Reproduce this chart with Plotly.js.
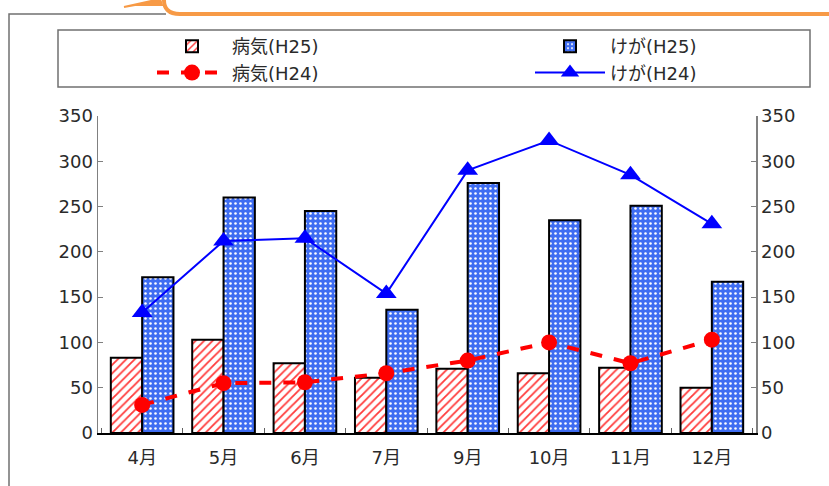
<!DOCTYPE html>
<html>
<head>
<meta charset="utf-8">
<script src="https://cdn.plot.ly/plotly-3.0.1.min.js"></script>
<style>html,body{margin:0;padding:0;background:#fff;}#chart{width:829px;height:486px;}</style>
</head>
<body>
<div id="chart"></div>
<script>
const months = ['4月', '5月', '6月', '7月', '9月', '10月', '11月', '12月'];
const illnessH25 = [83, 103, 77, 61, 71, 66, 72, 50];
const injuryH25 = [172, 260, 245, 136, 276, 235, 251, 167];
const illnessH24 = [31, 55, 56, 66, 80, 100, 77, 103];
const injuryH24 = [133, 212, 215, 154, 290, 323, 285, 231];
const seriesNames = ['病気(H25)', 'けが(H25)', '病気(H24)', 'けが(H24)'];
const yTicks = [0, 50, 100, 150, 200, 250, 300, 350];

const FONT = 'DejaVu Sans, Noto Sans CJK JP, sans-serif';
const W = 829, H = 486;
const L = 98, R = 73, T = 116, B = 53;
const pw = W - L - R, ph = H - T - B;
const px = x => (x - L) / pw;
const py = y => (H - B - y) / ph;

const traces = [
  {type: 'bar', name: seriesNames[0], x: months, y: illnessH25, legend: 'legend',
   marker: {color: '#ffffff', line: {color: '#000000', width: 2},
            pattern: {shape: '/', fgcolor: '#ff3b3b', bgcolor: '#ffffff', size: 6, solidity: 0.3}}},
  {type: 'bar', name: seriesNames[1], x: months, y: injuryH25, legend: 'legend2',
   marker: {color: '#3f6df2', line: {color: '#000000', width: 2},
            pattern: {shape: '.', fgcolor: '#ffffff', bgcolor: '#3f6df2', size: 5, solidity: 0.2}}},
  {type: 'scatter', mode: 'lines+markers', name: seriesNames[2], x: months, y: illnessH24, yaxis: 'y2', legend: 'legend',
   line: {color: '#ff0000', width: 4, dash: 'dash'}, marker: {symbol: 'circle', size: 16, color: '#ff0000'}},
  {type: 'scatter', mode: 'lines+markers', name: seriesNames[3], x: months, y: injuryH24, yaxis: 'y2', legend: 'legend2',
   line: {color: '#0000ff', width: 2}, marker: {symbol: 'triangle-up', size: 18, color: '#0000ff'}}
];

const yax = {
  range: [0, 350], tickvals: yTicks, ticktext: yTicks.map(String), showgrid: false, zeroline: false,
  showline: true, linecolor: '#808080', linewidth: 1.5, ticks: 'inside', ticklen: 5, tickcolor: '#808080',
  tickfont: {family: FONT, size: 18, color: '#2a2a2a'}, fixedrange: true
};

const legendBase = {orientation: 'v', y: py(28), xanchor: 'left', yanchor: 'top', itemwidth: 70,
  traceorder: 'normal', bgcolor: 'rgba(0,0,0,0)', borderwidth: 0, tracegroupgap: 0,
  font: {family: FONT, size: 18, color: '#2a2a2a'}};

const layout = {
  width: W, height: H,
  margin: {l: L, r: R, t: T, b: B, pad: 0},
  paper_bgcolor: '#ffffff', plot_bgcolor: '#ffffff',
  font: {family: FONT, size: 18, color: '#2a2a2a'},
  barmode: 'group', bargap: 0.23, bargroupgap: 0,
  xaxis: {type: 'category', showgrid: false, showline: true, linecolor: '#000000', linewidth: 1.5,
          ticks: 'inside', tickson: 'boundaries', ticklen: 5, tickcolor: '#606060',
          tickfont: {family: FONT, size: 18, color: '#2a2a2a'}, ticklabelstandoff: 8},
  yaxis: Object.assign({}, yax, {side: 'left'}),
  yaxis2: Object.assign({}, yax, {side: 'right', overlaying: 'y'}),
  showlegend: true,
  legend: Object.assign({}, legendBase, {x: px(152)}),
  legend2: Object.assign({}, legendBase, {x: px(530)}),
  shapes: [
    {type: 'rect', xref: 'paper', yref: 'paper', x0: px(58), x1: px(810), y0: py(87), y1: py(30),
     line: {color: '#707070', width: 1.5}, fillcolor: 'rgba(0,0,0,0)'},
    {type: 'path', xref: 'paper', yref: 'paper',
     path: `M ${px(9)},${py(490)} L ${px(9)},${py(14)} L ${px(166)},${py(14)}`,
     line: {color: '#707070', width: 1.5}},
    {type: 'path', xref: 'paper', yref: 'paper',
     path: `M ${px(164)},${py(-2)} Q ${px(163)},${py(14)} ${px(180)},${py(14)} L ${px(835)},${py(14)}`,
     line: {color: '#f79a46', width: 4}},
    {type: 'path', xref: 'paper', yref: 'paper',
     path: `M ${px(124)},${py(7)} L ${px(160)},${py(-1)} L ${px(162)},${py(5)} L ${px(135)},${py(5)} Z`,
     line: {color: '#f79a46', width: 2}, fillcolor: '#f79a46'}
  ]
};

Plotly.newPlot('chart', traces, layout, {displayModeBar: false, staticPlot: true});
</script>
</body>
</html>
